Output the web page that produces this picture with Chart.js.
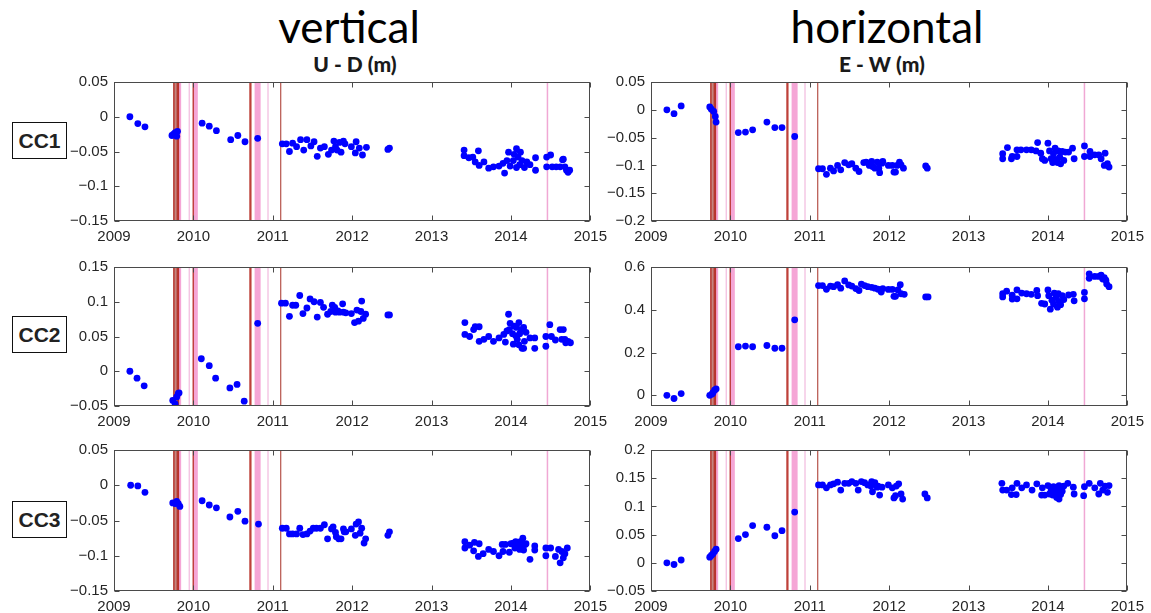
<!DOCTYPE html>
<html><head><meta charset="utf-8">
<script src="https://cdn.jsdelivr.net/npm/chart.js@4/dist/chart.umd.min.js"></script>
<style>
html,body{margin:0;padding:0;background:#fff}
body{width:1151px;height:613px;position:relative;overflow:hidden;font-family:'Liberation Sans',Arial,sans-serif}
canvas{position:absolute}
.big{position:absolute;font-family:Lato,'Open Sans',sans-serif;font-size:44px;line-height:44px;color:#000;transform:translateX(-50%);white-space:nowrap}
.sub{position:absolute;font-family:Lato,'Open Sans',sans-serif;font-weight:900;font-size:21px;line-height:21px;color:#1a1a1a;transform:translateX(-50%);white-space:nowrap}
.cc{position:absolute;left:12px;width:53px;height:35px;border:1.5px solid #111;font-family:'Liberation Sans',Arial,sans-serif;font-weight:bold;font-size:21px;line-height:35px;text-align:center;color:#222}
</style></head><body>
<div class="big" style="left:349px;top:4px">vertical</div>
<div class="big" style="left:887px;top:4px">horizontal</div>
<div class="sub" style="left:355px;top:53px">U - D (m)</div>
<div class="sub" style="left:882px;top:53px">E - W (m)</div>
<div class="cc" style="top:122px">CC1</div>
<div class="cc" style="top:316px">CC2</div>
<div class="cc" style="top:501px">CC3</div>
<canvas id="p1"></canvas><canvas id="p2"></canvas>
<canvas id="p3"></canvas><canvas id="p4"></canvas>
<canvas id="p5"></canvas><canvas id="p6"></canvas>
<script>
// ---- tick labels ----
const yearTicks = [2009,2010,2011,2012,2013,2014,2015];
const ticksUD1 = [-0.15,-0.1,-0.05,0,0.05];
const ticksEW1 = [-0.2,-0.15,-0.1,-0.05,0,0.05];
const ticksUD2 = [-0.05,0,0.05,0.1,0.15];
const ticksEW2 = [0,0.2,0.4,0.6];
const ticksUD3 = [-0.15,-0.1,-0.05,0,0.05];
const ticksEW3 = [-0.05,0,0.05,0.1,0.15,0.2];

// ---- event markers (decimal year) ----
const redLineYears = [2009.755,2009.797,2009.812,2009.998,2010.713,2010.724];
const brownLineYears = [2011.10];
const brownBandYears = [2009.764,2009.774,2009.784];
const pinkLineYears = [2009.832,2010.008,2010.02,2010.032,2010.042,2010.785,2010.797,2010.809,2010.821,2010.833];
const paleLineYears = [2009.948,2010.94];
const pinkSingleYears = [2014.46];

// ---- series: [decimal year, displacement m] ----
const udCC1 = [[2009.20,0],[2009.30,-0.0098],[2009.39,-0.0145],[2009.73,-0.027],[2009.75,-0.025],[2009.77,-0.023],[2009.79,-0.028],[2009.80,-0.021],
[2010.11,-0.0093],[2010.20,-0.0136],[2010.29,-0.020],[2010.47,-0.033],[2010.56,-0.027],[2010.65,-0.036],[2010.81,-0.031],
[2011.12,-0.039],[2011.17,-0.039],[2011.21,-0.050],[2011.25,-0.038],[2011.30,-0.043],[2011.35,-0.033],[2011.39,-0.048],[2011.43,-0.033],[2011.48,-0.042],[2011.52,-0.036],[2011.56,-0.057],[2011.60,-0.045],[2011.65,-0.043],[2011.70,-0.054],[2011.74,-0.048],[2011.77,-0.035],[2011.79,-0.043],[2011.81,-0.048],[2011.84,-0.037],[2011.86,-0.051],[2011.89,-0.035],[2011.91,-0.039],[2011.99,-0.043],[2012.05,-0.036],[2012.04,-0.052],[2012.09,-0.045],[2012.13,-0.055],[2012.18,-0.044],
[2012.45,-0.047],[2012.47,-0.045],
[2013.41,-0.048],[2013.41,-0.056],[2013.47,-0.059],[2013.52,-0.058],[2013.55,-0.065],[2013.59,-0.049],[2013.60,-0.070],[2013.66,-0.065],[2013.72,-0.074],[2013.78,-0.072],[2013.85,-0.071],[2013.90,-0.067],[2013.92,-0.081],[2013.95,-0.063],[2013.97,-0.051],[2013.99,-0.071],[2014.03,-0.063],[2014.04,-0.054],[2014.07,-0.046],[2014.07,-0.073],[2014.09,-0.058],[2014.11,-0.069],[2014.12,-0.051],[2014.14,-0.063],[2014.17,-0.073],[2014.20,-0.065],[2014.24,-0.069],[2014.31,-0.077],[2014.31,-0.059],[2014.45,-0.058],[2014.45,-0.072],[2014.50,-0.055],[2014.52,-0.072],[2014.57,-0.072],[2014.62,-0.072],[2014.65,-0.062],[2014.66,-0.061],[2014.68,-0.072],[2014.70,-0.077],[2014.72,-0.080],[2014.74,-0.077]];

const ewCC1 = [[2009.20,0],[2009.29,-0.007],[2009.38,0.007],[2009.74,0.005],[2009.76,0.001],[2009.79,-0.003],[2009.81,-0.012],[2009.82,-0.022],
[2010.10,-0.041],[2010.19,-0.040],[2010.28,-0.036],[2010.46,-0.022],[2010.56,-0.032],[2010.65,-0.032],[2010.81,-0.048],
[2011.11,-0.106],[2011.16,-0.106],[2011.21,-0.116],[2011.26,-0.105],[2011.30,-0.110],[2011.35,-0.100],[2011.39,-0.108],[2011.44,-0.095],[2011.49,-0.099],[2011.53,-0.097],[2011.58,-0.105],[2011.62,-0.111],[2011.68,-0.095],[2011.71,-0.094],[2011.75,-0.100],[2011.78,-0.093],[2011.79,-0.102],[2011.82,-0.105],[2011.85,-0.094],[2011.87,-0.105],[2011.88,-0.113],[2011.91,-0.096],[2011.92,-0.093],[2011.99,-0.100],[2012.04,-0.100],[2012.06,-0.112],[2012.08,-0.112],[2012.10,-0.100],[2012.13,-0.094],[2012.15,-0.099],[2012.18,-0.105],
[2012.46,-0.101],[2012.48,-0.105],
[2013.43,-0.079],[2013.43,-0.088],[2013.49,-0.068],[2013.54,-0.088],[2013.55,-0.084],[2013.61,-0.084],[2013.61,-0.072],[2013.66,-0.072],[2013.73,-0.072],[2013.79,-0.072],[2013.85,-0.074],[2013.87,-0.059],[2013.91,-0.078],[2013.93,-0.088],[2013.96,-0.091],[2014.00,-0.060],[2014.02,-0.074],[2014.04,-0.088],[2014.06,-0.095],[2014.07,-0.079],[2014.09,-0.069],[2014.10,-0.089],[2014.12,-0.095],[2014.13,-0.074],[2014.15,-0.085],[2014.16,-0.097],[2014.18,-0.075],[2014.20,-0.091],[2014.22,-0.076],[2014.26,-0.076],[2014.31,-0.069],[2014.33,-0.088],[2014.46,-0.065],[2014.46,-0.084],[2014.53,-0.084],[2014.53,-0.075],[2014.59,-0.081],[2014.64,-0.081],[2014.67,-0.088],[2014.72,-0.078],[2014.71,-0.100],[2014.75,-0.097],[2014.77,-0.103]];

const udCC2 = [[2009.20,0],[2009.29,-0.010],[2009.38,-0.021],[2009.74,-0.042],[2009.77,-0.047],[2009.79,-0.037],[2009.81,-0.032],[2009.82,-0.031],
[2010.10,0.018],[2010.20,0.008],[2010.28,-0.010],[2010.46,-0.024],[2010.55,-0.019],[2010.64,-0.043],[2010.81,0.069],
[2011.11,0.098],[2011.16,0.098],[2011.21,0.079],[2011.25,0.095],[2011.29,0.095],[2011.34,0.109],[2011.38,0.083],[2011.43,0.091],[2011.47,0.104],[2011.52,0.100],[2011.56,0.078],[2011.60,0.099],[2011.64,0.092],[2011.69,0.082],[2011.73,0.086],[2011.75,0.095],[2011.78,0.092],[2011.79,0.085],[2011.82,0.087],[2011.84,0.085],[2011.88,0.097],[2011.89,0.085],[2011.92,0.084],[2011.99,0.083],[2012.03,0.070],[2012.06,0.088],[2012.08,0.072],[2012.11,0.086],[2012.12,0.101],[2012.14,0.076],[2012.17,0.082],
[2012.45,0.081],[2012.47,0.081],
[2013.42,0.070],[2013.42,0.053],[2013.48,0.050],[2013.53,0.060],[2013.55,0.064],[2013.60,0.043],[2013.60,0.064],[2013.66,0.046],[2013.72,0.050],[2013.78,0.043],[2013.85,0.048],[2013.91,0.053],[2013.93,0.042],[2013.95,0.058],[2013.97,0.082],[2013.98,0.060],[2013.99,0.069],[2014.02,0.054],[2014.03,0.039],[2014.04,0.065],[2014.06,0.051],[2014.07,0.063],[2014.08,0.046],[2014.10,0.070],[2014.10,0.038],[2014.11,0.054],[2014.13,0.060],[2014.14,0.033],[2014.16,0.063],[2014.16,0.033],[2014.17,0.043],[2014.19,0.056],[2014.24,0.048],[2014.30,0.048],[2014.30,0.033],[2014.44,0.036],[2014.44,0.050],[2014.49,0.067],[2014.51,0.050],[2014.56,0.045],[2014.62,0.060],[2014.64,0.046],[2014.66,0.060],[2014.68,0.046],[2014.69,0.041],[2014.72,0.043],[2014.75,0.041]];

const ewCC2 = [[2009.20,0],[2009.29,-0.015],[2009.38,0.008],[2009.74,0],[2009.77,0.006],[2009.78,0.012],[2009.80,0.024],[2009.82,0.030],
[2010.10,0.227],[2010.19,0.230],[2010.28,0.227],[2010.46,0.233],[2010.56,0.220],[2010.65,0.220],[2010.81,0.353],
[2011.11,0.513],[2011.16,0.513],[2011.21,0.496],[2011.26,0.511],[2011.30,0.508],[2011.35,0.517],[2011.39,0.501],[2011.44,0.535],[2011.49,0.516],[2011.53,0.511],[2011.58,0.499],[2011.62,0.490],[2011.65,0.520],[2011.69,0.513],[2011.73,0.508],[2011.78,0.505],[2011.82,0.501],[2011.86,0.496],[2011.90,0.483],[2011.92,0.499],[2011.99,0.495],[2012.04,0.495],[2012.06,0.463],[2012.08,0.463],[2012.11,0.493],[2012.14,0.517],[2012.15,0.475],[2012.19,0.472],
[2012.46,0.460],[2012.49,0.460],
[2013.43,0.475],[2013.43,0.460],[2013.48,0.487],[2013.55,0.468],[2013.55,0.450],[2013.61,0.493],[2013.61,0.451],[2013.67,0.478],[2013.73,0.475],[2013.79,0.472],[2013.86,0.490],[2013.87,0.466],[2013.92,0.430],[2013.96,0.427],[2014.00,0.493],[2014.01,0.466],[2014.03,0.403],[2014.05,0.445],[2014.07,0.427],[2014.08,0.478],[2014.10,0.457],[2014.12,0.412],[2014.13,0.475],[2014.14,0.439],[2014.16,0.424],[2014.18,0.466],[2014.20,0.448],[2014.26,0.469],[2014.32,0.472],[2014.33,0.442],[2014.46,0.481],[2014.46,0.451],[2014.52,0.568],[2014.52,0.547],[2014.59,0.556],[2014.64,0.556],[2014.67,0.562],[2014.69,0.544],[2014.71,0.550],[2014.73,0.538],[2014.74,0.520],[2014.77,0.508]];

const udCC3 = [[2009.21,0],[2009.30,-0.001],[2009.39,-0.010],[2009.74,-0.025],[2009.77,-0.026],[2009.79,-0.023],[2009.81,-0.026],[2009.83,-0.030],
[2010.11,-0.022],[2010.20,-0.028],[2010.29,-0.032],[2010.46,-0.045],[2010.56,-0.037],[2010.65,-0.051],[2010.82,-0.055],
[2011.12,-0.061],[2011.17,-0.061],[2011.21,-0.069],[2011.25,-0.069],[2011.30,-0.069],[2011.34,-0.061],[2011.38,-0.070],[2011.43,-0.069],[2011.47,-0.065],[2011.51,-0.061],[2011.55,-0.061],[2011.60,-0.061],[2011.65,-0.056],[2011.69,-0.076],[2011.74,-0.062],[2011.76,-0.059],[2011.79,-0.067],[2011.80,-0.073],[2011.83,-0.076],[2011.86,-0.076],[2011.89,-0.062],[2011.90,-0.066],[2011.92,-0.066],[2011.99,-0.062],[2012.04,-0.071],[2012.05,-0.055],[2012.08,-0.052],[2012.10,-0.068],[2012.12,-0.061],[2012.15,-0.082],[2012.17,-0.076],
[2012.45,-0.071],[2012.47,-0.066],
[2013.42,-0.080],[2013.42,-0.089],[2013.48,-0.085],[2013.53,-0.093],[2013.54,-0.081],[2013.59,-0.101],[2013.60,-0.083],[2013.65,-0.097],[2013.72,-0.091],[2013.78,-0.094],[2013.85,-0.100],[2013.89,-0.084],[2013.90,-0.094],[2013.93,-0.084],[2013.98,-0.095],[2014.00,-0.083],[2014.03,-0.082],[2014.05,-0.089],[2014.06,-0.080],[2014.08,-0.088],[2014.10,-0.083],[2014.11,-0.091],[2014.12,-0.080],[2014.14,-0.087],[2014.15,-0.075],[2014.16,-0.092],[2014.18,-0.084],[2014.19,-0.083],[2014.24,-0.105],[2014.30,-0.086],[2014.30,-0.092],[2014.44,-0.089],[2014.44,-0.100],[2014.50,-0.089],[2014.56,-0.101],[2014.60,-0.091],[2014.62,-0.110],[2014.64,-0.094],[2014.66,-0.103],[2014.68,-0.097],[2014.71,-0.089]];

const ewCC3 = [[2009.20,0],[2009.29,-0.003],[2009.38,0.005],[2009.74,0.010],[2009.76,0.013],[2009.78,0.016],[2009.80,0.020],[2009.82,0.024],
[2010.10,0.043],[2010.19,0.050],[2010.28,0.066],[2010.46,0.063],[2010.56,0.048],[2010.65,0.057],[2010.81,0.090],
[2011.11,0.138],[2011.16,0.138],[2011.21,0.133],[2011.26,0.138],[2011.30,0.140],[2011.35,0.143],[2011.39,0.129],[2011.44,0.141],[2011.49,0.141],[2011.53,0.144],[2011.58,0.141],[2011.61,0.129],[2011.65,0.144],[2011.69,0.142],[2011.73,0.138],[2011.77,0.136],[2011.78,0.144],[2011.79,0.126],[2011.82,0.142],[2011.85,0.134],[2011.86,0.136],[2011.88,0.120],[2011.91,0.134],[2011.99,0.138],[2012.04,0.133],[2012.06,0.115],[2012.08,0.119],[2012.09,0.136],[2012.12,0.140],[2012.15,0.122],[2012.17,0.113],
[2012.45,0.122],[2012.48,0.115],
[2013.42,0.141],[2013.43,0.129],[2013.48,0.129],[2013.54,0.121],[2013.55,0.133],[2013.60,0.121],[2013.61,0.141],[2013.67,0.133],[2013.73,0.138],[2013.80,0.129],[2013.86,0.140],[2013.92,0.120],[2013.93,0.133],[2013.96,0.120],[2014.00,0.137],[2014.02,0.122],[2014.04,0.129],[2014.06,0.120],[2014.07,0.135],[2014.09,0.124],[2014.11,0.116],[2014.12,0.130],[2014.14,0.137],[2014.14,0.113],[2014.16,0.121],[2014.18,0.127],[2014.20,0.136],[2014.25,0.141],[2014.32,0.134],[2014.33,0.122],[2014.45,0.119],[2014.46,0.135],[2014.52,0.141],[2014.59,0.133],[2014.64,0.122],[2014.66,0.141],[2014.69,0.129],[2014.72,0.136],[2014.75,0.125],[2014.77,0.137]];

// ---- layout ----
const PAD_L = 70, PAD_T = 12, PAD_R = 20, PAD_B = 32, PLOT_W = 480;
const panels = [
  {id:'p1', data:udCC1, ticks:ticksUD1, min:-0.15, max:0.05, left:114, top:79,  h:142},
  {id:'p2', data:ewCC1, ticks:ticksEW1, min:-0.2,  max:0.05, left:651, top:79,  h:142},
  {id:'p3', data:udCC2, ticks:ticksUD2, min:-0.05, max:0.15, left:114, top:264, h:142},
  {id:'p4', data:ewCC2, ticks:ticksEW2, min:-0.05, max:0.6,  left:651, top:264, h:142},
  {id:'p5', data:udCC3, ticks:ticksUD3, min:-0.15, max:0.05, left:114, top:447, h:144},
  {id:'p6', data:ewCC3, ticks:ticksEW3, min:-0.05, max:0.2,  left:651, top:447, h:144}
];

const fmt = v => { const r = Math.round(v*1000)/1000; return (r < 0 ? '\u2212' : '') + String(Math.abs(r)); };
const tickFont = {family:"'Liberation Sans', Arial, sans-serif", size:15};
const tickColor = '#262626';

const framePlugin = {
  id:'frame',
  beforeDatasetsDraw(chart){
    const {ctx, chartArea:a, scales:{x}} = chart;
    ctx.save();
    ctx.beginPath(); ctx.rect(a.left, a.top, a.right-a.left, a.bottom-a.top); ctx.clip();
    const draw = (arr, color, w) => {
      ctx.strokeStyle = color; ctx.lineWidth = w;
      arr.forEach(yr => { const px = x.getPixelForValue(yr); ctx.beginPath(); ctx.moveTo(px, a.top); ctx.lineTo(px, a.bottom); ctx.stroke(); });
    };
    draw(brownBandYears, '#c4857f', 3);
    draw(pinkLineYears, '#f5a6d6', 2.2);
    draw(paleLineYears, '#f3bfe0', 1.3);
    draw(pinkSingleYears, '#f0a8d4', 1.5);
    draw(redLineYears, '#b8322a', 1.3);
    draw(brownLineYears, '#b5524a', 1.2);
    ctx.restore();
  },
  afterDraw(chart){
    const {ctx, chartArea:a, scales:{x, y}} = chart;
    const L = Math.round(a.left)+0.5, R = Math.round(a.right)-0.5, T = Math.round(a.top)+0.5, B = Math.round(a.bottom)-0.5;
    ctx.save();
    ctx.strokeStyle = '#4a4a4a'; ctx.lineWidth = 1;
    ctx.strokeRect(L, T, R-L, B-T);
    const tl = 5;
    ctx.beginPath();
    x.ticks.forEach(t => { const px = Math.round(x.getPixelForValue(t.value))+0.5; ctx.moveTo(px, B); ctx.lineTo(px, B-tl); ctx.moveTo(px, T); ctx.lineTo(px, T+tl); });
    y.ticks.forEach(t => { const py = Math.round(y.getPixelForValue(t.value))+0.5; ctx.moveTo(L, py); ctx.lineTo(L+tl, py); ctx.moveTo(R, py); ctx.lineTo(R-tl, py); });
    ctx.stroke();
    ctx.restore();
  }
};

panels.forEach(p => {
  const cv = document.getElementById(p.id);
  const W = PLOT_W + PAD_L + PAD_R, H = p.h + PAD_T + PAD_B;
  cv.width = W; cv.height = H;
  cv.style.width = W + 'px'; cv.style.height = H + 'px';
  cv.style.left = (p.left - PAD_L) + 'px'; cv.style.top = (p.top - PAD_T) + 'px';
  new Chart(cv, {
    type:'scatter',
    data:{datasets:[{data:p.data.map(([x, y]) => ({x, y})), backgroundColor:'#0000ff', borderWidth:0, pointRadius:3.4, pointHoverRadius:3.4}]},
    options:{
      responsive:false, animation:false, devicePixelRatio:1,
      layout:{padding:{left:0, top:PAD_T, right:PAD_R, bottom:0}},
      plugins:{legend:{display:false}, tooltip:{enabled:false}},
      scales:{
        x:{type:'linear', min:2009, max:2015,
           afterBuildTicks: s => { s.ticks = yearTicks.map(v => ({value:v})); },
           afterFit: s => { s.height = PAD_B; },
           ticks:{callback: v => String(v), font:tickFont, color:tickColor, padding:7, maxRotation:0, autoSkip:false},
           grid:{display:false, drawTicks:false}, border:{display:false}},
        y:{type:'linear', min:p.min, max:p.max,
           afterBuildTicks: s => { s.ticks = p.ticks.map(v => ({value:v})); },
           afterFit: s => { s.width = PAD_L; },
           ticks:{callback: v => fmt(v), font:tickFont, color:tickColor, padding:6, autoSkip:false},
           grid:{display:false, drawTicks:false}, border:{display:false}}
      }
    },
    plugins:[framePlugin]
  });
});
</script>
</body></html>
